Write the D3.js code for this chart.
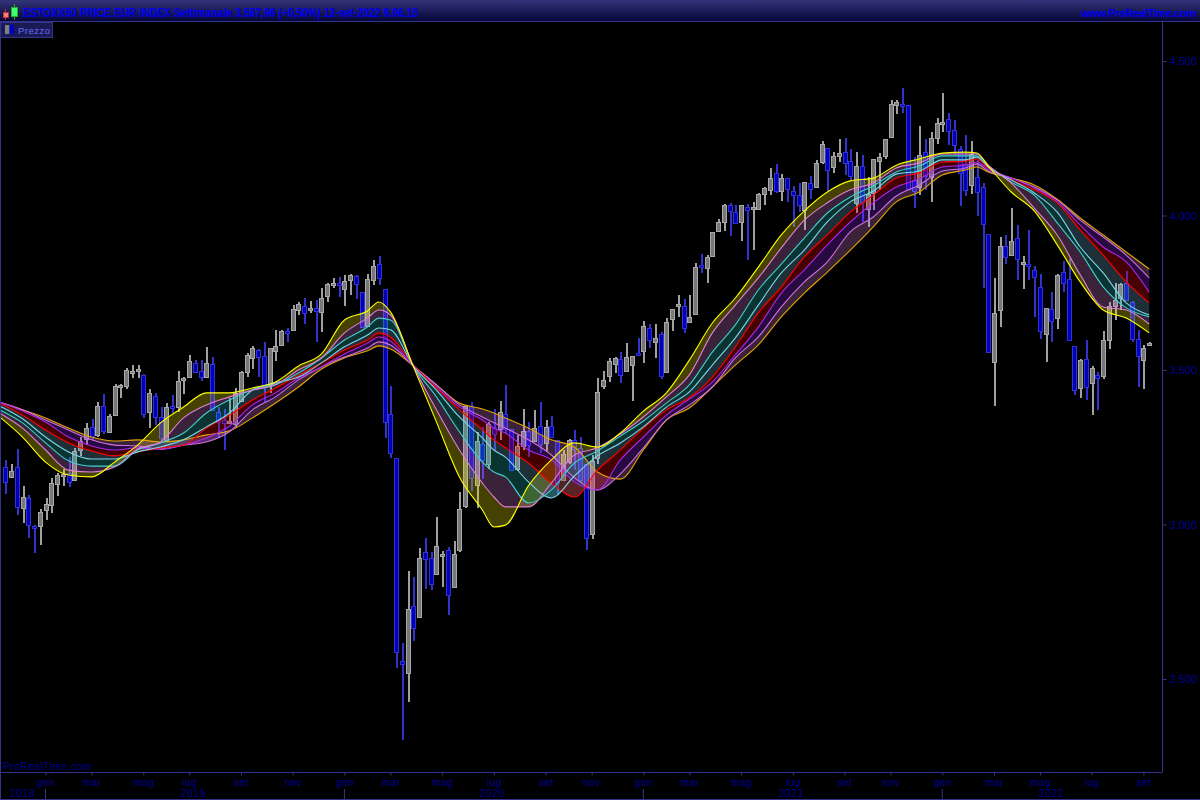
<!DOCTYPE html>
<html><head><meta charset="utf-8">
<script src="https://cdn.jsdelivr.net/npm/d3@7"></script>
<style>html,body{margin:0;padding:0;background:#000;overflow:hidden}svg{display:block}text{font-family:"Liberation Sans",Arial,sans-serif}</style>
</head><body><svg id="c" width="1200" height="800"></svg>
<script>
const opens=[3185,3152,3187,3055,3087,2994,2997,3049,3063,3133,3158,3167,3144,3241,3275,3316,3291,3384,3298,3353,
3448,3446,3492,3495,3484,3363,3416,3348,3273,3383,3381,3467,3476,3524,3498,3478,3521,3365,3338,3331,
3325,3402,3494,3539,3566,3544,3451,3562,3580,3626,3631,3695,3708,3696,3702,3688,3737,3774,3780,3763,
3789,3803,3754,3645,3793,3842,3761,3356,3214,2557,2521,2735,2701,2910,2893,2837,2900,2916,2798,2917,
3060,3384,3129,3259,3194,3313,3311,3358,3309,3178,3255,3304,3270,3319,3262,3319,3274,3143,3201,3274,
3248,3197,2968,3217,3446,3478,3517,3535,3497,3514,3556,3562,3636,3588,3615,3491,3664,3708,3706,3655,
3680,3840,3829,3869,3949,3978,4033,4012,3978,4029,4018,4020,4070,4082,4138,4079,4120,4080,4067,4015,
4104,4093,4171,4217,4157,4190,4204,4175,4039,4161,4023,4071,4176,4194,4255,4358,4362,4359,4116,4093,
4204,4125,4248,4298,4311,4277,4214,4168,4098,4123,4091,3939,3526,3692,3900,3870,3926,3844,3843,3825,
3770,3618,3696,3670,3816,3793,3579,3443,3537,3458,3485,3478,3597,3704,3734,3780,3721,3599,3530,3578];
const highs=[3208,3197,3243,3126,3095,2998,3050,3087,3149,3167,3178,3217,3249,3282,3327,3340,3395,3422,3359,3454,
3456,3505,3516,3516,3486,3437,3427,3379,3392,3419,3496,3478,3547,3532,3532,3574,3542,3381,3375,3408,
3443,3496,3554,3577,3568,3589,3571,3629,3631,3637,3709,3720,3733,3723,3728,3766,3780,3797,3800,3806,
3812,3807,3754,3810,3856,3869,3761,3448,3214,2615,2849,2829,2923,2955,2911,3023,2914,2926,2945,3104,
3384,3395,3300,3316,3332,3375,3399,3451,3309,3291,3375,3332,3372,3395,3337,3351,3275,3241,3278,3305,
3282,3197,3224,3473,3497,3538,3543,3557,3586,3545,3602,3658,3648,3648,3622,3667,3696,3742,3729,3742,
3845,3874,3871,3948,3988,4036,4039,4034,4034,4036,4043,4074,4093,4154,4167,4133,4122,4095,4104,4109,
4127,4181,4241,4217,4206,4249,4252,4214,4204,4195,4125,4184,4201,4249,4373,4373,4414,4359,4188,4289,
4249,4270,4316,4395,4333,4309,4224,4259,4241,4179,4104,3939,3799,3929,3936,4023,3969,3869,3953,3836,
3812,3702,3751,3810,3852,3858,3579,3537,3597,3512,3493,3626,3719,3780,3783,3820,3722,3629,3580,3590];
const lows=[3100,3152,3032,3005,2957,2908,2935,3016,3036,3093,3124,3122,3141,3221,3257,3273,3284,3292,3295,3352,
3410,3440,3473,3473,3345,3311,3322,3268,3268,3361,3365,3422,3474,3491,3465,3475,3370,3281,3241,3331,
3316,3402,3478,3503,3478,3396,3426,3530,3578,3590,3629,3678,3650,3684,3591,3624,3721,3764,3737,3708,
3742,3730,3638,3640,3776,3775,3281,3216,2536,2304,2426,2624,2701,2792,2788,2836,2798,2707,2798,2912,
3052,3109,3054,3147,3181,3241,3273,3297,3174,3174,3241,3219,3268,3233,3238,3279,3095,3141,3197,3176,
3133,2917,2954,3197,3439,3462,3491,3459,3495,3401,3550,3524,3572,3538,3471,3491,3627,3672,3621,3653,
3678,3815,3782,3867,3948,3950,3935,3975,3918,3856,3888,4018,4034,4066,4073,4047,4044,3963,4012,3952,
4052,4093,4166,4079,4138,4174,4130,4114,4009,3979,3963,4017,4082,4182,4255,4328,4332,4085,4025,4066,
4082,4044,4233,4271,4228,4197,4030,4064,4071,3998,3764,3557,3384,3640,3843,3870,3791,3763,3791,3672,
3600,3526,3591,3632,3753,3594,3419,3410,3402,3354,3370,3470,3567,3661,3694,3723,3590,3444,3440,3578];
const closes=[3136,3172,3059,3090,3000,2987,3041,3067,3135,3161,3165,3137,3239,3270,3311,3284,3385,3302,3351,3447,
3452,3499,3497,3502,3359,3424,3348,3281,3379,3379,3466,3473,3528,3494,3478,3524,3372,3332,3329,3336,
3426,3495,3550,3570,3543,3446,3570,3578,3625,3621,3699,3713,3686,3702,3692,3732,3777,3780,3775,3789,
3806,3777,3640,3796,3838,3798,3329,3230,2585,2546,2728,2664,2893,2887,2809,2929,2906,2769,2906,3049,
3384,3152,3270,3206,3325,3295,3365,3309,3176,3254,3303,3259,3313,3262,3314,3282,3135,3228,3272,3246,
3143,2958,3204,3429,3467,3528,3538,3484,3543,3544,3550,3644,3598,3602,3478,3654,3696,3712,3635,3670,
3832,3835,3865,3947,3978,4033,4012,3975,4033,4018,4026,4068,4088,4121,4079,4120,4084,4067,4034,4107,
4086,4171,4230,4145,4191,4201,4168,4128,4159,4044,4071,4182,4188,4249,4362,4368,4356,4087,4079,4196,
4125,4252,4298,4304,4272,4228,4136,4085,4198,4073,3971,3557,3686,3900,3866,3916,3858,3849,3838,3802,
3627,3702,3657,3809,3782,3597,3437,3532,3446,3505,3476,3596,3708,3725,3778,3726,3600,3543,3570,3586];

// candle index of every band reading
const bandIdx=[-1,3,7,11,15,19,23,27,31,35,39,43,47,51,55,59,63,65,67,71,75,79,83,85,87,91,95,99,103,107,111,115,119,123,127,131,135,139,143,147,151,155,159,163,167,169,171,175,179,183,187,191,195,199];
const bandYellow=[3348,3283,3202,3160,3154,3202,3257,3329,3380,3426,3426,3442,3461,3513,3552,3662,3691,3720,3688,3510,3332,3154,3047,2992,2998,3125,3209,3264,3251,3296,3367,3426,3532,3652,3733,3833,3937,4015,4076,4112,4121,4163,4183,4202,4205,4202,4160,4076,4015,3905,3785,3694,3668,3620];
const bandPink=[3361,3312,3241,3176,3170,3186,3244,3267,3345,3387,3413,3435,3452,3500,3539,3620,3668,3694,3678,3513,3371,3241,3134,3089,3057,3057,3134,3225,3248,3293,3348,3413,3484,3620,3710,3798,3895,3985,4041,4083,4105,4154,4170,4199,4199,4199,4163,4105,4024,3937,3808,3704,3694,3649];
const bandCyan=[3371,3329,3264,3206,3189,3189,3241,3264,3296,3361,3403,3435,3452,3490,3539,3597,3639,3668,3662,3513,3413,3300,3202,3170,3154,3070,3112,3199,3238,3286,3335,3393,3452,3558,3646,3759,3843,3927,4008,4060,4096,4141,4160,4193,4193,4193,4160,4108,4066,3976,3882,3769,3701,3672];
const bandSky=[3384,3342,3283,3235,3212,3212,3235,3251,3274,3316,3361,3435,3458,3477,3523,3575,3613,3636,3630,3513,3435,3348,3280,3241,3218,3138,3086,3157,3222,3264,3316,3380,3429,3516,3604,3710,3814,3888,3979,4044,4079,4134,4144,4180,4180,4189,4157,4115,4073,4011,3898,3814,3717,3678];
const bandRed=[3393,3354,3306,3264,3238,3222,3235,3248,3257,3312,3354,3403,3442,3484,3523,3565,3597,3620,3607,3516,3442,3371,3306,3274,3248,3199,3134,3089,3176,3241,3312,3371,3410,3477,3575,3685,3769,3866,3937,4011,4066,4121,4138,4173,4176,4183,4154,4115,4083,4041,3953,3872,3785,3717];
const bandPurple=[3396,3367,3332,3283,3254,3241,3248,3244,3257,3280,3319,3387,3426,3474,3510,3552,3587,3607,3594,3513,3445,3380,3338,3312,3296,3241,3209,3138,3112,3209,3283,3354,3406,3461,3549,3639,3749,3824,3905,3979,4041,4092,4118,4157,4163,4173,4150,4121,4089,4044,3969,3898,3850,3752];
const bandOrchid=[3396,3371,3338,3306,3274,3257,3254,3244,3257,3267,3300,3371,3413,3468,3510,3542,3571,3591,3581,3513,3452,3387,3348,3329,3312,3274,3225,3151,3112,3164,3248,3338,3387,3445,3539,3607,3704,3785,3850,3947,3995,4063,4099,4144,4154,4167,4144,4121,4092,4050,3985,3930,3872,3798];
const bandOrange=[3396,3371,3345,3312,3283,3270,3274,3267,3274,3290,3303,3345,3393,3445,3503,3539,3562,3578,3568,3513,3452,3393,3374,3361,3345,3312,3274,3251,3170,3147,3241,3338,3377,3445,3516,3581,3672,3749,3817,3888,3963,4044,4076,4131,4147,4157,4141,4121,4099,4053,3992,3937,3882,3827];

const priceTicks=[2500,3000,3500,4000,4500];
const monthTickIdx=[7,15,24,32,41,50,59,67,76,85,94,102,111,119,128,137,146,154,163,172,180,189,198];
const monthLabels=["gen","mar","mag","lug","set","nov","gen","mar","mag","lug","set","nov","gen","mar","mag","lug","set","nov","gen","mar","mag","lug","set"];
const yearLabels=["2018","2019","2020","2021","2022"];
const yearLabelIdx=[3,32.7,84.7,136.7,182];
const yearSepIdx=[7,59,111,163];
const titleText="ESTOXX50 PRICE EUR INDEX Settimanale 3.587,96 (+0,50%) 12-set-2022 9.06.15";

const frame="#33338a", axisText="#000098";
const svg=d3.select("#c");
const defs=svg.append("defs");
const g=defs.append("linearGradient").attr("id","hdr").attr("x1",0).attr("x2",0).attr("y1",0).attr("y2",1);
g.append("stop").attr("offset",0).attr("stop-color","#33337a");
g.append("stop").attr("offset",1).attr("stop-color","#06063a");
const clip=defs.append("clipPath").attr("id","plot");
clip.append("rect").attr("x",1).attr("y",22).attr("width",1161).attr("height",750);

const x=d3.scaleLinear().domain([0,199]).range([5.3,1149.2]);
const y=d3.scaleLinear().domain([2500,4500]).range([679,61]);

svg.append("rect").attr("width",1200).attr("height",800).attr("fill","#000");
const plot=svg.append("g").attr("clip-path","url(#plot)");

// candles
const idx=d3.range(opens.length);
const colr=i=>closes[i]>=opens[i];
plot.append("g").selectAll("line").data(idx).join("line")
 .attr("x1",i=>Math.round(x(i))+.5).attr("x2",i=>Math.round(x(i))+.5)
 .attr("y1",i=>y(highs[i])).attr("y2",i=>y(lows[i]))
 .attr("stroke",i=>colr(i)?"#a0a0a0":"#3232cc").attr("stroke-width",2).attr("shape-rendering","crispEdges");
plot.append("g").selectAll("rect").data(idx).join("rect")
 .attr("x",i=>Math.round(x(i))-1.5).attr("width",4)
 .attr("y",i=>Math.round(y(Math.max(opens[i],closes[i])))+.5)
 .attr("height",i=>Math.max(2,Math.round(y(Math.min(opens[i],closes[i]))-y(Math.max(opens[i],closes[i])))))
 .attr("fill",i=>colr(i)?"#787878":"#0000b4")
 .attr("stroke",i=>colr(i)?"#a8a8a8":"#3232d8").attr("stroke-width",1);

// bands
const series=[bandYellow,bandPink,bandCyan,bandSky,bandRed,bandPurple,bandOrchid,bandOrange];
const lineColors=["#ffff00","#e080d8","#40cfcf","#80d4ea","#ff0000","#a828e8","#d070d8","#e4a400"];
const fillColors=["rgba(255,240,0,.27)","rgba(225,130,225,.26)","rgba(40,200,190,.26)","rgba(120,200,230,.24)","rgba(255,0,0,.27)","rgba(150,40,255,.26)","rgba(225,130,225,.26)"];
const area=d3.area().curve(d3.curveMonotoneX).x(d=>x(d[0])).y0(d=>y(d[1])).y1(d=>y(d[2]));
const line=d3.line().curve(d3.curveMonotoneX).x(d=>x(d[0])).y(d=>y(d[1]));
fillColors.forEach((c,k)=>{
  plot.append("path").attr("d",area(bandIdx.map((b,j)=>[b,series[k][j],series[k+1][j]]))).attr("fill",c);
});
for(let k=series.length-1;k>=0;k--){
  plot.append("path").attr("d",line(bandIdx.map((b,j)=>[b,series[k][j]]))).attr("fill","none").attr("stroke",lineColors[k]).attr("stroke-width",1.1);
}

// price axis
const yAxis=d3.axisRight(y).tickValues(priceTicks).tickSize(4).tickPadding(3).tickFormat(v=>d3.format(",")(v).replace(",","."));
const ya=svg.append("g").attr("transform","translate(1162.5,0)").call(yAxis);
ya.select(".domain").remove();
ya.selectAll("line").attr("stroke",frame);
ya.selectAll("text").attr("fill",axisText).attr("font-size",11);
svg.append("line").attr("x1",1162.5).attr("x2",1162.5).attr("y1",22).attr("y2",772).attr("stroke",frame);

// time axis
const xAxis=d3.axisBottom(x).tickValues(monthTickIdx).tickSize(3).tickPadding(3).tickFormat((d,i)=>monthLabels[i]);
const xa=svg.append("g").attr("transform","translate(0,772.5)").call(xAxis);
xa.select(".domain").remove();
xa.selectAll("line").attr("stroke",frame);
xa.selectAll("text").attr("fill",axisText).attr("font-size",10).attr("letter-spacing",".5");
svg.append("line").attr("x1",0).attr("x2",1162.5).attr("y1",772.5).attr("y2",772.5).attr("stroke",frame);
svg.append("g").selectAll("line").data(yearSepIdx).join("line")
 .attr("x1",d=>x(d)).attr("x2",d=>x(d)).attr("y1",789).attr("y2",799).attr("stroke",frame);
svg.append("g").selectAll("text").data(yearLabels).join("text")
 .attr("x",(d,i)=>x(yearLabelIdx[i])).attr("y",797).attr("text-anchor","middle")
 .attr("fill",axisText).attr("font-size",10.5).attr("letter-spacing",".5").text(d=>d);
svg.append("line").attr("x1",0).attr("x2",1200).attr("y1",799.5).attr("y2",799.5).attr("stroke",frame);
svg.append("line").attr("x1",.5).attr("x2",.5).attr("y1",22).attr("y2",800).attr("stroke",frame);

// header
svg.append("rect").attr("width",1200).attr("height",21).attr("fill","url(#hdr)");
svg.append("line").attr("x1",0).attr("x2",1200).attr("y1",21.5).attr("y2",21.5).attr("stroke",frame);
svg.append("line").attr("x1",5.5).attr("x2",5.5).attr("y1",9).attr("y2",20).attr("stroke","#c03030");
svg.append("rect").attr("x",3.5).attr("y",12.5).attr("width",5).attr("height",5).attr("fill","#f08080").attr("stroke","#c03030");
svg.append("line").attr("x1",14.5).attr("x2",14.5).attr("y1",4).attr("y2",20).attr("stroke","#20b020");
svg.append("rect").attr("x",11.5).attr("y",7.5).attr("width",6).attr("height",9).attr("fill","#40ff70").attr("stroke","#20b020");
svg.append("text").attr("x",23).attr("y",16.5).attr("fill","#0000f0").attr("font-size",12).attr("font-weight","bold")
 .attr("textLength",395).attr("lengthAdjust","spacingAndGlyphs").text(titleText);
svg.append("text").attr("x",1081).attr("y",16.5).attr("fill","#0000f0").attr("font-size",11).attr("font-weight","bold")
 .attr("textLength",115).attr("lengthAdjust","spacing").text("www.ProRealTime.com");

// legend
svg.append("rect").attr("x",.5).attr("y",22.5).attr("width",52).attr("height",15).attr("fill","#1a1a55").attr("stroke",frame);
svg.append("rect").attr("x",5).attr("y",25).attr("width",4.5).attr("height",9).attr("fill","#808080");
svg.append("rect").attr("x",9.5).attr("y",25).attr("width",4.5).attr("height",9).attr("fill","#0000c0");
svg.append("text").attr("x",18).attr("y",33.5).attr("fill","#6a6af0").attr("font-size",9.5).attr("letter-spacing",".5").text("Prezzo");
svg.append("text").attr("x",3).attr("y",770).attr("fill",axisText).attr("font-size",10).attr("letter-spacing",".6").text("ProRealTime.com");
</script></body></html>
